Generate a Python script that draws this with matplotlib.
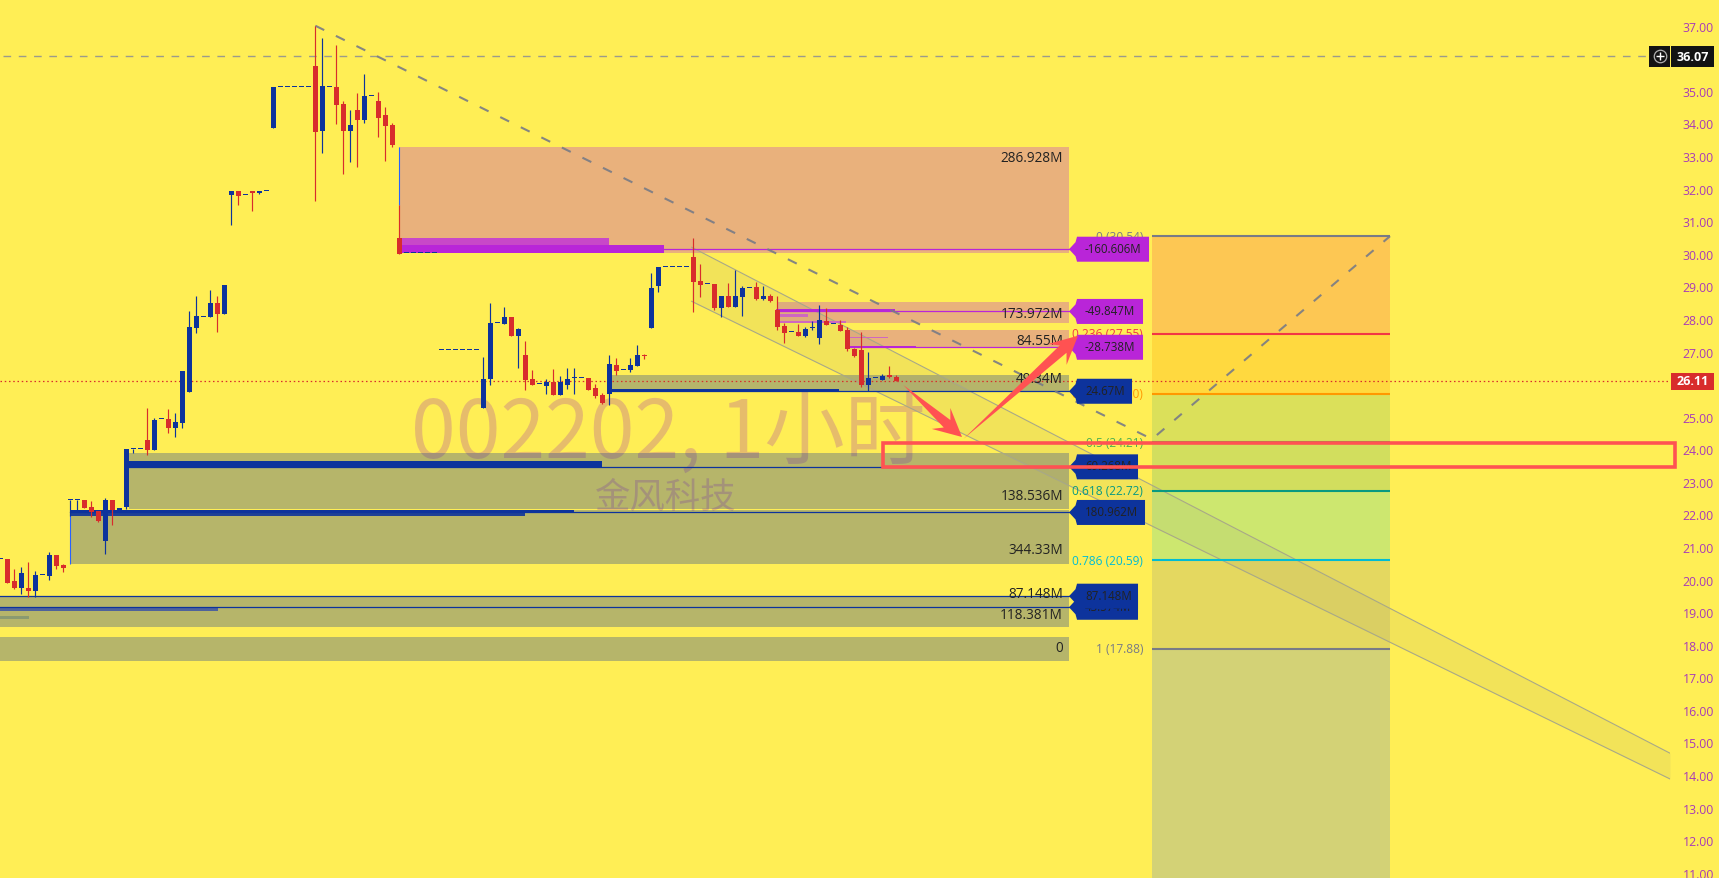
import matplotlib
matplotlib.use("Agg")
import matplotlib.pyplot as plt
from matplotlib.patches import Polygon, Rectangle

# hourly candles, one row = 10 bars
opens = [20.62,20.63,19.96,19.74,19.74,19.65,20.13,20.11,20.75,20.45,
         22.43,22.43,22.44,22.23,22.10,21.18,22.44,22.15,22.23,24.00,
         24.00,24.28,23.98,24.92,24.93,24.65,24.80,25.76,27.72,28.05,
         28.06,28.49,28.15,31.80,31.93,31.79,31.93,31.87,31.92,33.86,
         35.11,35.11,35.11,35.11,35.11,35.76,33.77,35.11,35.12,34.60,
         33.77,34.41,34.11,34.83,34.69,34.26,33.95,30.48,30.01,30.01,
         30.01,30.01,30.01,27.04,27.04,27.04,27.04,27.04,27.04,25.27,
         26.16,27.86,27.84,28.06,27.48,26.89,26.16,25.99,25.94,26.06,
         25.66,25.97,26.18,26.18,26.19,25.88,25.66,25.70,26.59,26.42,
         26.43,26.55,26.88,27.72,29.01,29.58,29.58,29.58,29.58,29.90,
         29.16,29.06,29.07,28.34,28.70,28.37,28.67,28.94,28.98,28.61,
         28.70,28.27,27.78,27.59,27.60,27.48,27.71,27.41,27.94,27.83,
         27.81,27.66,27.08,27.05,25.97,26.18,26.13,26.24,26.22]
highs = [20.62,20.63,20.32,20.39,20.54,20.26,20.13,20.85,20.75,20.48,
         22.43,22.43,22.44,22.41,22.10,22.50,22.44,22.15,24.01,24.00,
         24.00,25.27,24.96,24.92,25.23,25.11,26.40,28.24,28.70,28.05,
         28.89,28.70,29.04,31.93,31.93,31.79,31.93,31.93,31.92,35.12,
         35.11,35.11,35.11,35.11,35.11,36.99,36.62,35.11,36.41,34.69,
         34.41,34.93,35.52,34.83,34.98,34.51,34.01,31.50,30.01,30.01,
         30.01,30.01,30.01,27.04,27.04,27.04,27.04,27.04,27.04,26.83,
         28.49,27.86,28.37,28.06,27.72,27.32,26.43,25.99,26.16,26.46,
         26.25,26.49,26.49,26.18,26.19,26.00,25.73,26.89,26.80,26.42,
         26.80,27.20,26.92,29.41,29.59,29.58,29.58,29.58,29.58,30.48,
         29.69,29.06,29.07,28.70,29.10,29.50,29.01,28.94,29.13,29.01,
         28.76,28.70,27.87,27.59,27.84,27.75,27.94,28.43,28.34,27.83,
         27.97,27.75,27.11,27.60,26.98,26.18,26.31,26.55,26.28]
lows = [20.62,19.89,19.71,19.56,19.47,19.47,20.13,19.99,20.32,20.23,
        21.96,22.11,22.20,21.92,21.77,20.78,21.67,22.15,22.17,23.90,
        24.00,23.82,23.98,24.92,24.50,24.38,24.65,25.76,27.57,28.05,
        28.06,27.60,28.15,30.88,31.50,31.79,31.31,31.83,31.92,33.86,
        35.11,35.11,35.11,35.11,35.11,31.62,33.09,35.11,33.98,32.45,
        32.82,32.66,34.01,34.83,33.58,32.85,33.28,29.99,30.01,30.01,
        30.01,30.01,30.01,27.04,27.04,27.04,27.04,27.04,27.04,25.27,
        25.97,27.86,27.84,27.48,26.49,25.82,25.97,25.99,25.70,25.66,
        25.66,25.85,25.70,26.18,25.82,25.57,25.39,25.36,26.28,26.42,
        26.37,26.55,26.77,27.72,28.83,29.58,29.58,29.58,29.58,28.21,
        28.67,29.06,28.27,28.06,28.37,28.37,28.09,28.94,28.58,28.58,
        28.52,27.66,27.26,27.59,27.48,27.45,27.66,27.23,27.81,27.83,
        27.63,27.02,26.83,25.91,25.79,26.18,26.13,26.19,26.11]
closes = [20.62,19.89,19.74,20.20,19.65,20.14,20.13,20.75,20.42,20.35,
          22.43,22.43,22.20,22.07,21.80,22.44,22.13,22.15,24.01,24.00,
          24.00,23.98,24.90,24.92,24.65,24.84,26.40,27.75,28.09,28.05,
          28.49,28.15,29.04,31.93,31.77,31.79,31.87,31.93,31.92,35.12,
          35.11,35.11,35.11,35.11,35.11,33.74,35.15,35.11,34.57,33.77,
          33.95,34.11,34.84,34.83,34.17,33.92,33.34,29.99,30.01,30.01,
          30.01,30.01,30.01,27.04,27.04,27.04,27.04,27.04,27.04,26.16,
          27.87,27.86,28.06,27.48,27.69,26.13,25.97,25.99,26.06,25.66,
          26.06,26.16,26.18,26.18,25.82,25.63,25.42,26.62,26.40,26.42,
          26.59,26.89,26.87,28.95,29.59,29.58,29.58,29.58,29.58,29.13,
          29.04,29.06,28.34,28.70,28.37,28.70,28.95,28.94,28.61,28.70,
          28.55,27.75,27.57,27.59,27.48,27.69,27.71,27.97,27.81,27.83,
          27.63,27.08,26.86,25.97,26.19,26.18,26.25,26.23,26.11]

# volume zones: left bar, top, bottom
zone_left = [57, 111, 121, 87, 18.4, 10, -1, -1]
zone_top = [33.28, 28.52, 27.65, 26.28, 23.88, 22.14, 19.50, 18.24]
zone_bottom = [30.02, 27.88, 27.11, 25.75, 22.17, 20.48, 18.54, 17.51]
zone_kind = ["sell", "sell", "sell", "buy", "buy", "buy", "buy", "buy"]

zone_texts = ["286.928M", "173.972M", "84.55M", "49.34M", "138.536M", "344.33M",
              "87.148M", "118.381M", "0"]
zone_text_prices = [32.94, 28.18, 27.33, 26.16, 22.57, 20.91, 19.58, 18.94, 17.90]

# point of control lines and their tags
poc_prices = [30.14, 28.23, 27.13, 25.78, 23.46, 22.06, 19.15, 19.49]
poc_left = [57, 110.8, 121.1, 87.2, 18.4, 10, -1, -1]
tag_texts = ["-160.606M", "-49.847M", "-28.738M", "24.67M", "69.268M", "180.962M",
             "43.574M", "87.148M"]
tag_right = [1149, 1143, 1143, 1132, 1138, 1145, 1138, 1138]

# thick profile bars: left, right, top, bottom, colour
thick_bars = [
    (57, 86.95, 30.48, 30.26, "#C848C8"),
    (57, 94.8, 30.26, 30.02, "#B925D8"),
    (110.8, 127.8, 28.30, 28.22, "#B925D8"),
    (111.1, 115.4, 28.16, 28.06, "#CF67C0"),
    (111.1, 120.8, 27.94, 27.87, "#CF67C0"),
    (121.1, 130.8, 27.17, 27.13, "#B925D8"),
    (121.1, 126.8, 27.46, 27.41, "#CF67C0"),
    (87.2, 119.8, 25.85, 25.77, "#0D339C"),
    (18.4, 86, 23.64, 23.43, "#0D339C"),
    (10, 81.95, 22.14, 22.07, "#0D339C"),
    (10, 75, 22.07, 21.94, "#1E4096"),
    (-1, 31.1, 19.16, 19.03, "#4F639B"),
    (-1, 4.1, 18.88, 18.79, "#8A9A70"),
]

# fibonacci retracement
fib_ratios = ["0", "0.236", "0.382", "0.5", "0.618", "0.786", "1"]
fib_prices = [30.54, 27.55, 25.70, 24.21, 22.72, 20.59, 17.88]
fib_lines = ["#787B86", "#F23645", "#FF9800", "#4CAF50", "#089981", "#00BCD4", "#787B86"]
fib_bands = ["#FDC753", "#FFD93F", "#DBE05A", "#D2DE5E", "#CDE76F", "#E4D860", "#D3D276"]

y_ticks = [11, 12, 13, 14, 15, 16, 17, 18, 19, 20, 21, 22, 23, 24, 25, 27, 28, 29,
           30, 31, 32, 33, 34, 35, 37]
last_price = 26.11
cross_price = 36.07

BG = "#FFEE55"
RED = "#D82C2C"
BLUE = "#0D339C"
ARROW = "#FF5252"
INK = "#222222"
FONT = ["Open Sans", "DejaVu Sans"]
CJK = ["Noto Sans CJK SC", "DejaVu Sans"]

plt.rcParams["font.family"] = FONT

fig = plt.figure(figsize=(17.19, 8.79), dpi=100, facecolor=BG)
ax = fig.add_axes([0, 0, 1670 / 1719, 1], facecolor=BG)
ax.set_xlim(-0.047, 238.52)
ax.set_ylim(10.84, 37.82)
for s in ax.spines.values():
    s.set_visible(False)
ax.set_xticks([])
ax.yaxis.tick_right()
ax.set_yticks(y_ticks)
ax.set_yticklabels(["%.2f" % t for t in y_ticks])
ax.tick_params(axis="y", length=0, pad=9, labelsize=8.8, labelcolor="#A83AB8")


# overlay shapes were measured in pixels, these two map them to bar/price
def bx(px):
    return (px - 0.33) / 7


def py(y):
    return 37 - (y - 26.7) / 32.58


ZONE_RIGHT = bx(1069)
FIB_LEFT, FIB_RIGHT = bx(1152), bx(1390)

# watermark
ax.text(bx(411), py(435), "002202, 1小时", family=CJK, fontsize=58, color="#9C27B0",
        alpha=0.25, ha="left", va="center", zorder=1.5)
ax.text(bx(666), py(498), "金风科技", family=CJK, fontsize=25.5, color="#9C27B0",
        alpha=0.25, ha="center", va="center", zorder=1.5)

# fib bands and lines
band_edges = fib_prices + [10.84]
for i in range(7):
    ax.fill_between([FIB_LEFT, FIB_RIGHT], band_edges[i], band_edges[i + 1],
                    color=fib_bands[i], lw=0, zorder=1)
    ax.plot([FIB_LEFT, FIB_RIGHT], [fib_prices[i]] * 2, color=fib_lines[i], lw=1.5,
            solid_capstyle="butt", zorder=3)
    ax.text(bx(1143), fib_prices[i], "%s (%.2f)" % (fib_ratios[i], fib_prices[i]),
            color=fib_lines[i], fontsize=8.6, ha="right", va="center", zorder=5)

# zones
for i in range(len(zone_top)):
    c = "#B925D8" if zone_kind[i] == "sell" else BLUE
    ax.add_patch(Rectangle((zone_left[i], zone_bottom[i]), ZONE_RIGHT - zone_left[i],
                           zone_top[i] - zone_bottom[i], fc=c, alpha=0.3, lw=0, zorder=2))
ax.vlines(57, 31.5, 33.28, color="#2962FF", lw=0.8, zorder=3)
ax.vlines(10, 20.48, 22.0, color="#2962FF", lw=0.8, zorder=3)

for x0, x1, top, bottom, c in thick_bars:
    ax.add_patch(Rectangle((x0, bottom), x1 - x0, top - bottom, fc=c, lw=0, zorder=3))

for i in range(len(poc_prices)):
    c = "#B925D8" if i < 3 else BLUE
    ax.plot([poc_left[i], ZONE_RIGHT], [poc_prices[i]] * 2, color=c, lw=0.9, zorder=3)

for i in range(len(zone_texts)):
    ax.text(bx(1063), zone_text_prices[i], zone_texts[i], color=INK, fontsize=9.8,
            ha="right", va="center", zorder=5.5)

# channel
chan_x = [bx(691.7), bx(1670)]
chan_upper = [30.20, 14.67]
chan_lower = [28.54, 13.88]
ax.fill_between(chan_x, chan_lower, chan_upper, color="#787B86", alpha=0.09, lw=0, zorder=2.5)
ax.plot(chan_x, chan_upper, color="#A8A888", lw=0.8, zorder=2.6)
ax.plot(chan_x, chan_lower, color="#A8A888", lw=0.8, zorder=2.6)

# trend line of the fib
ax.plot([45, FIB_LEFT, FIB_RIGHT], [37.0, 24.31, 30.54], color="#787B86", lw=1.5, alpha=0.9,
        dashes=(4.75, 6.25), dash_capstyle="butt", zorder=3.5)

# price lines
ax.plot([bx(3), bx(1647)], [cross_price] * 2, color="#9B9B8B", lw=1, dashes=(5.5, 5.5), zorder=3)
ax.plot([0, 238.52], [last_price] * 2, color=RED, lw=0.9, dashes=(1.2, 2.2), zorder=3.5)

# candles
for i in range(len(opens)):
    c = RED if closes[i] < opens[i] else BLUE
    top = max(opens[i], closes[i])
    bottom = min(opens[i], closes[i])
    if highs[i] > lows[i]:
        ax.vlines(i, lows[i], highs[i], color=c, lw=0.85, zorder=4)
    body = max(top - bottom, 0.035)
    ax.bar(i, body, bottom=bottom, width=5 / 7, color=c, lw=0, zorder=4.1)

# tags on the right of the zones
for i in range(len(tag_texts)):
    c = "#B925D8" if i < 3 else BLUE
    yc = 26.7 + (37 - poc_prices[i]) * 32.58
    pts = [(1069, yc), (1075.5, yc - 7), (1077, yc - 12.5), (tag_right[i], yc - 12.5),
           (tag_right[i], yc + 12.5), (1077, yc + 12.5), (1075.5, yc + 7)]
    ax.add_patch(Polygon([(bx(a), py(b)) for a, b in pts], closed=True, fc=c, lw=0, zorder=6 + i * 0.01))
    ax.text(bx(1085), py(yc - 1), tag_texts[i], color=INK, fontsize=8.3, ha="left", va="center",
            zorder=6 + i * 0.01)


# red hand-drawn arrows
def arrow(x0, y0, x1, y1):
    L = ((x1 - x0) ** 2 + (y1 - y0) ** 2) ** 0.5
    dx, dy = (x1 - x0) / L, (y1 - y0) / L
    nx, ny = -dy, dx
    pts = [(x0, y0),
           (x1 - dx * 20 + nx * 5, y1 - dy * 20 + ny * 5),
           (x1 - dx * 28 + nx * 14, y1 - dy * 28 + ny * 14),
           (x1, y1),
           (x1 - dx * 28 - nx * 14, y1 - dy * 28 - ny * 14),
           (x1 - dx * 20 - nx * 5, y1 - dy * 20 - ny * 5)]
    ax.add_patch(Polygon([(bx(a), py(b)) for a, b in pts], closed=True, fc=ARROW, lw=0, zorder=7))


arrow(903.3, 386, 962, 438)
arrow(963.3, 440, 1078, 336.7)

ax.add_patch(Rectangle((bx(883), 23.46), bx(1675) - bx(883), 24.19 - 23.46, fc="none",
                       ec=ARROW, lw=2.6, clip_on=False, zorder=7))

# price scale labels
ax.add_patch(Rectangle((bx(1671), py(391)), bx(1714) - bx(1671), py(374) - py(391), fc=RED, lw=0,
                       clip_on=False, zorder=8))
ax.text(bx(1693), last_price, "26.11", color="white", fontsize=9, fontweight="bold", ha="center",
        va="center", clip_on=False, zorder=9)
ax.add_patch(Rectangle((bx(1671), py(68)), bx(1714) - bx(1671), py(47) - py(68), fc="#131313", lw=0,
                       clip_on=False, zorder=8))
ax.add_patch(Rectangle((bx(1649), py(68)), bx(1670) - bx(1649), py(47) - py(68), fc="#131313", lw=0,
                       clip_on=False, zorder=8))
ax.text(bx(1693), cross_price, "36.07", color="white", fontsize=9, fontweight="bold", ha="center",
        va="center", clip_on=False, zorder=9)
ax.plot([bx(1659.5)], [cross_price], marker="o", ms=9, mfc="none", mec="#B0B0B0", mew=0.9, zorder=9)
ax.plot([bx(1659.5)], [cross_price], marker="+", ms=6, mec="white", mew=1, zorder=9)

fig.savefig("out.png", dpi=100, facecolor=BG)
